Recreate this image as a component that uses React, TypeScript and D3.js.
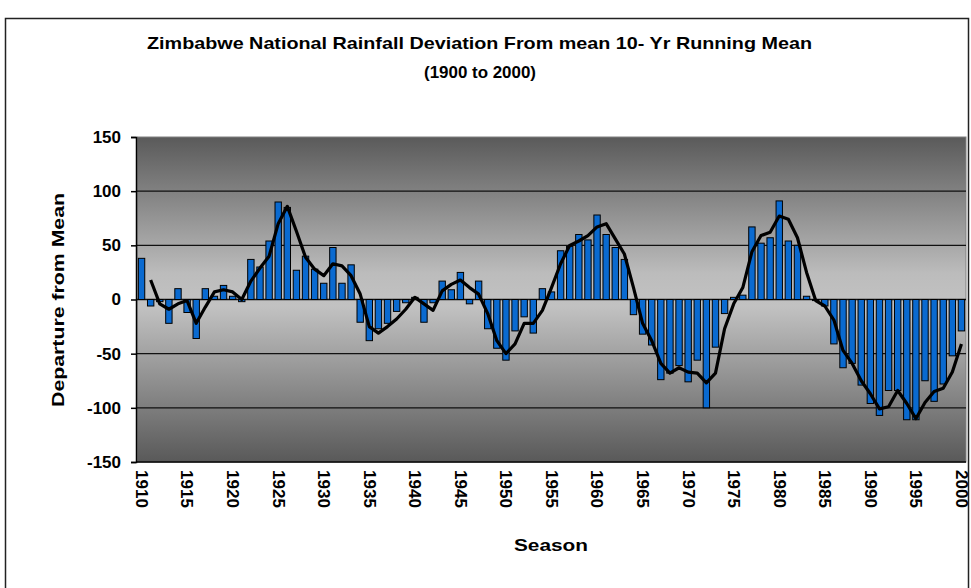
import React, { useEffect, useRef } from "react";
import * as d3 from "d3";

const years: number[] = d3.range(1910, 2001);

const deviation: number[] = [
  38, -6, -2, -22, 10, -12, -36, 10, 3, 13,
  3, -2, 37, 30, 54, 90, 85, 27, 40, 28,
  15, 48, 15, 32, -21, -38, -27, -22, -11, -3,
  2, -21, -3, 17, 9, 25, -4, 17, -27, -45,
  -56, -29, -16, -31, 10, 7, 45, 49, 60, 55,
  78, 60, 48, 37, -14, -32, -42, -74, -68, -61,
  -76, -56, -100, -44, -13, 2, 4, 67, 52, 57,
  91, 54, 50, 3, -1, -6, -41, -63, -59, -79,
  -96, -107, -84, -84, -111, -111, -75, -94, -78, -52,
  -29,
];

const runningMean: (number | null)[] = [
  null, 18, -4, -9, -4, -1, -22, -7, 7, 9,
  7, 0, 17, 29, 40, 70, 86, 63, 39, 28,
  22, 33, 31, 22, 5, -25, -31, -25, -18, -9,
  2, -4, -10, 8, 14, 18, 11, 5, -13, -38,
  -50, -41, -22, -22, -10, 11, 33, 50, 54, 59,
  67, 70, 56, 42, 11, -22, -38, -59, -68, -63,
  -67, -68, -77, -68, -27, -4, 11, 44, 59, 62,
  77, 74, 57, 25, -1, -6, -19, -47, -59, -75,
  -87, -101, -99, -84, -96, -110, -95, -85, -82, -67,
  -41,
];

const yTicks: number[] = [-150, -100, -50, 0, 50, 100, 150];
const xTickLabels: string[] = [
  "1910", "1915", "1920", "1925", "1930", "1935", "1940", "1945", "1950", "1955",
  "1960", "1965", "1970", "1975", "1980", "1985", "1990", "1995", "2000",
];

const titleLine1 = "Zimbabwe National Rainfall Deviation From mean 10- Yr Running Mean";
const titleLine2 = "(1900 to 2000)";
const yTitle = "Departure from Mean";
const xTitle = "Season";

const W = 971;
const H = 588;
const L = 137, R = 966, T = 137, B = 462;
const FONT = "'Liberation Sans', Arial, sans-serif";

export default function App() {
  const yAxisRef = useRef<SVGGElement>(null);

  const x = d3.scaleBand<string>()
    .domain(years.map(String))
    .range([L, R])
    .paddingInner(0.3)
    .paddingOuter(0.15);
  const y = d3.scaleLinear().domain([-150, 150]).range([B, T]);

  useEffect(() => {
    if (!yAxisRef.current) return;
    const g = d3.select(yAxisRef.current);
    g.selectAll("*").remove();
    g.call(
      d3.axisLeft(y)
        .tickValues(yTicks)
        .tickSize(5)
        .tickPadding(10)
        .tickFormat((d) => String(d))
    );
    g.select(".domain").attr("stroke", "#000").attr("stroke-width", 1.5);
    g.selectAll(".tick line").attr("stroke", "#000").attr("stroke-width", 1.5);
    g.selectAll(".tick text")
      .attr("font-family", FONT)
      .attr("font-size", 17)
      .attr("font-weight", "bold")
      .attr("fill", "#000");
  }, []);

  const lineGen = d3.line<number | null>()
    .defined((d) => d !== null)
    .x((_, i) => (x(String(years[i])) as number) + x.bandwidth() / 2)
    .y((d) => y(d as number));

  return (
    <svg width={W} height={H} style={{ position: "absolute", left: 0, top: 0, background: "#fff" }}>
      <defs>
        <linearGradient id="bg" x1="0" y1="0" x2="0" y2="1">
          <stop offset="0%" stopColor="#5a5a5a" />
          <stop offset="42%" stopColor="#bcbcbc" />
          <stop offset="52%" stopColor="#c2c2c2" />
          <stop offset="100%" stopColor="#595959" />
        </linearGradient>
      </defs>
      <rect x={5.5} y={18.5} width={963} height={600} fill="#fff" stroke="#222" strokeWidth={1.5} />
      <text x={479.5} y={49} textAnchor="middle" fontFamily={FONT} fontSize={17} fontWeight="bold"
        textLength={665} lengthAdjust="spacingAndGlyphs">{titleLine1}</text>
      <text x={480} y={78} textAnchor="middle" fontFamily={FONT} fontSize={17} fontWeight="bold"
        textLength={112} lengthAdjust="spacingAndGlyphs">{titleLine2}</text>

      <rect x={L} y={T} width={R - L} height={B - T} fill="url(#bg)" stroke="#808080" strokeWidth={1} />
      {yTicks.filter((t) => t !== -150 && t !== 150).map((t) => (
        <line key={t} x1={L} x2={R} y1={y(t)} y2={y(t)} stroke="#111" strokeWidth={1.3} />
      ))}

      {deviation.map((v, i) => {
        const bx = x(String(years[i])) as number;
        return (
          <rect
            key={i}
            x={bx}
            y={Math.min(y(v), y(0))}
            width={x.bandwidth()}
            height={Math.abs(y(v) - y(0))}
            fill="#0a6ad0"
            stroke="#000"
            strokeWidth={1}
          />
        );
      })}

      <path d={lineGen(runningMean) || ""} fill="none" stroke="#000" strokeWidth={3.2} strokeLinejoin="round" />

      <line x1={L} x2={R} y1={B} y2={B} stroke="#000" strokeWidth={1.5} />
      <g ref={yAxisRef} transform={`translate(${L - 1},0)`} />

      {xTickLabels.map((lab) => {
        const cx = (x(lab) as number) + x.bandwidth() / 2;
        return (
          <text
            key={lab}
            transform={`translate(${cx},${470}) rotate(90)`}
            dy="0.35em"
            fontFamily={FONT}
            fontSize={16}
            fontWeight="bold"
            textLength={38}
            lengthAdjust="spacingAndGlyphs"
          >
            {lab}
          </text>
        );
      })}

      <text x={551} y={551} textAnchor="middle" fontFamily={FONT} fontSize={17} fontWeight="bold"
        textLength={74} lengthAdjust="spacingAndGlyphs">{xTitle}</text>
      <text transform={`translate(64,300) rotate(-90)`} textAnchor="middle" fontFamily={FONT} fontSize={17} fontWeight="bold"
        textLength={214} lengthAdjust="spacingAndGlyphs">{yTitle}</text>
    </svg>
  );
}
